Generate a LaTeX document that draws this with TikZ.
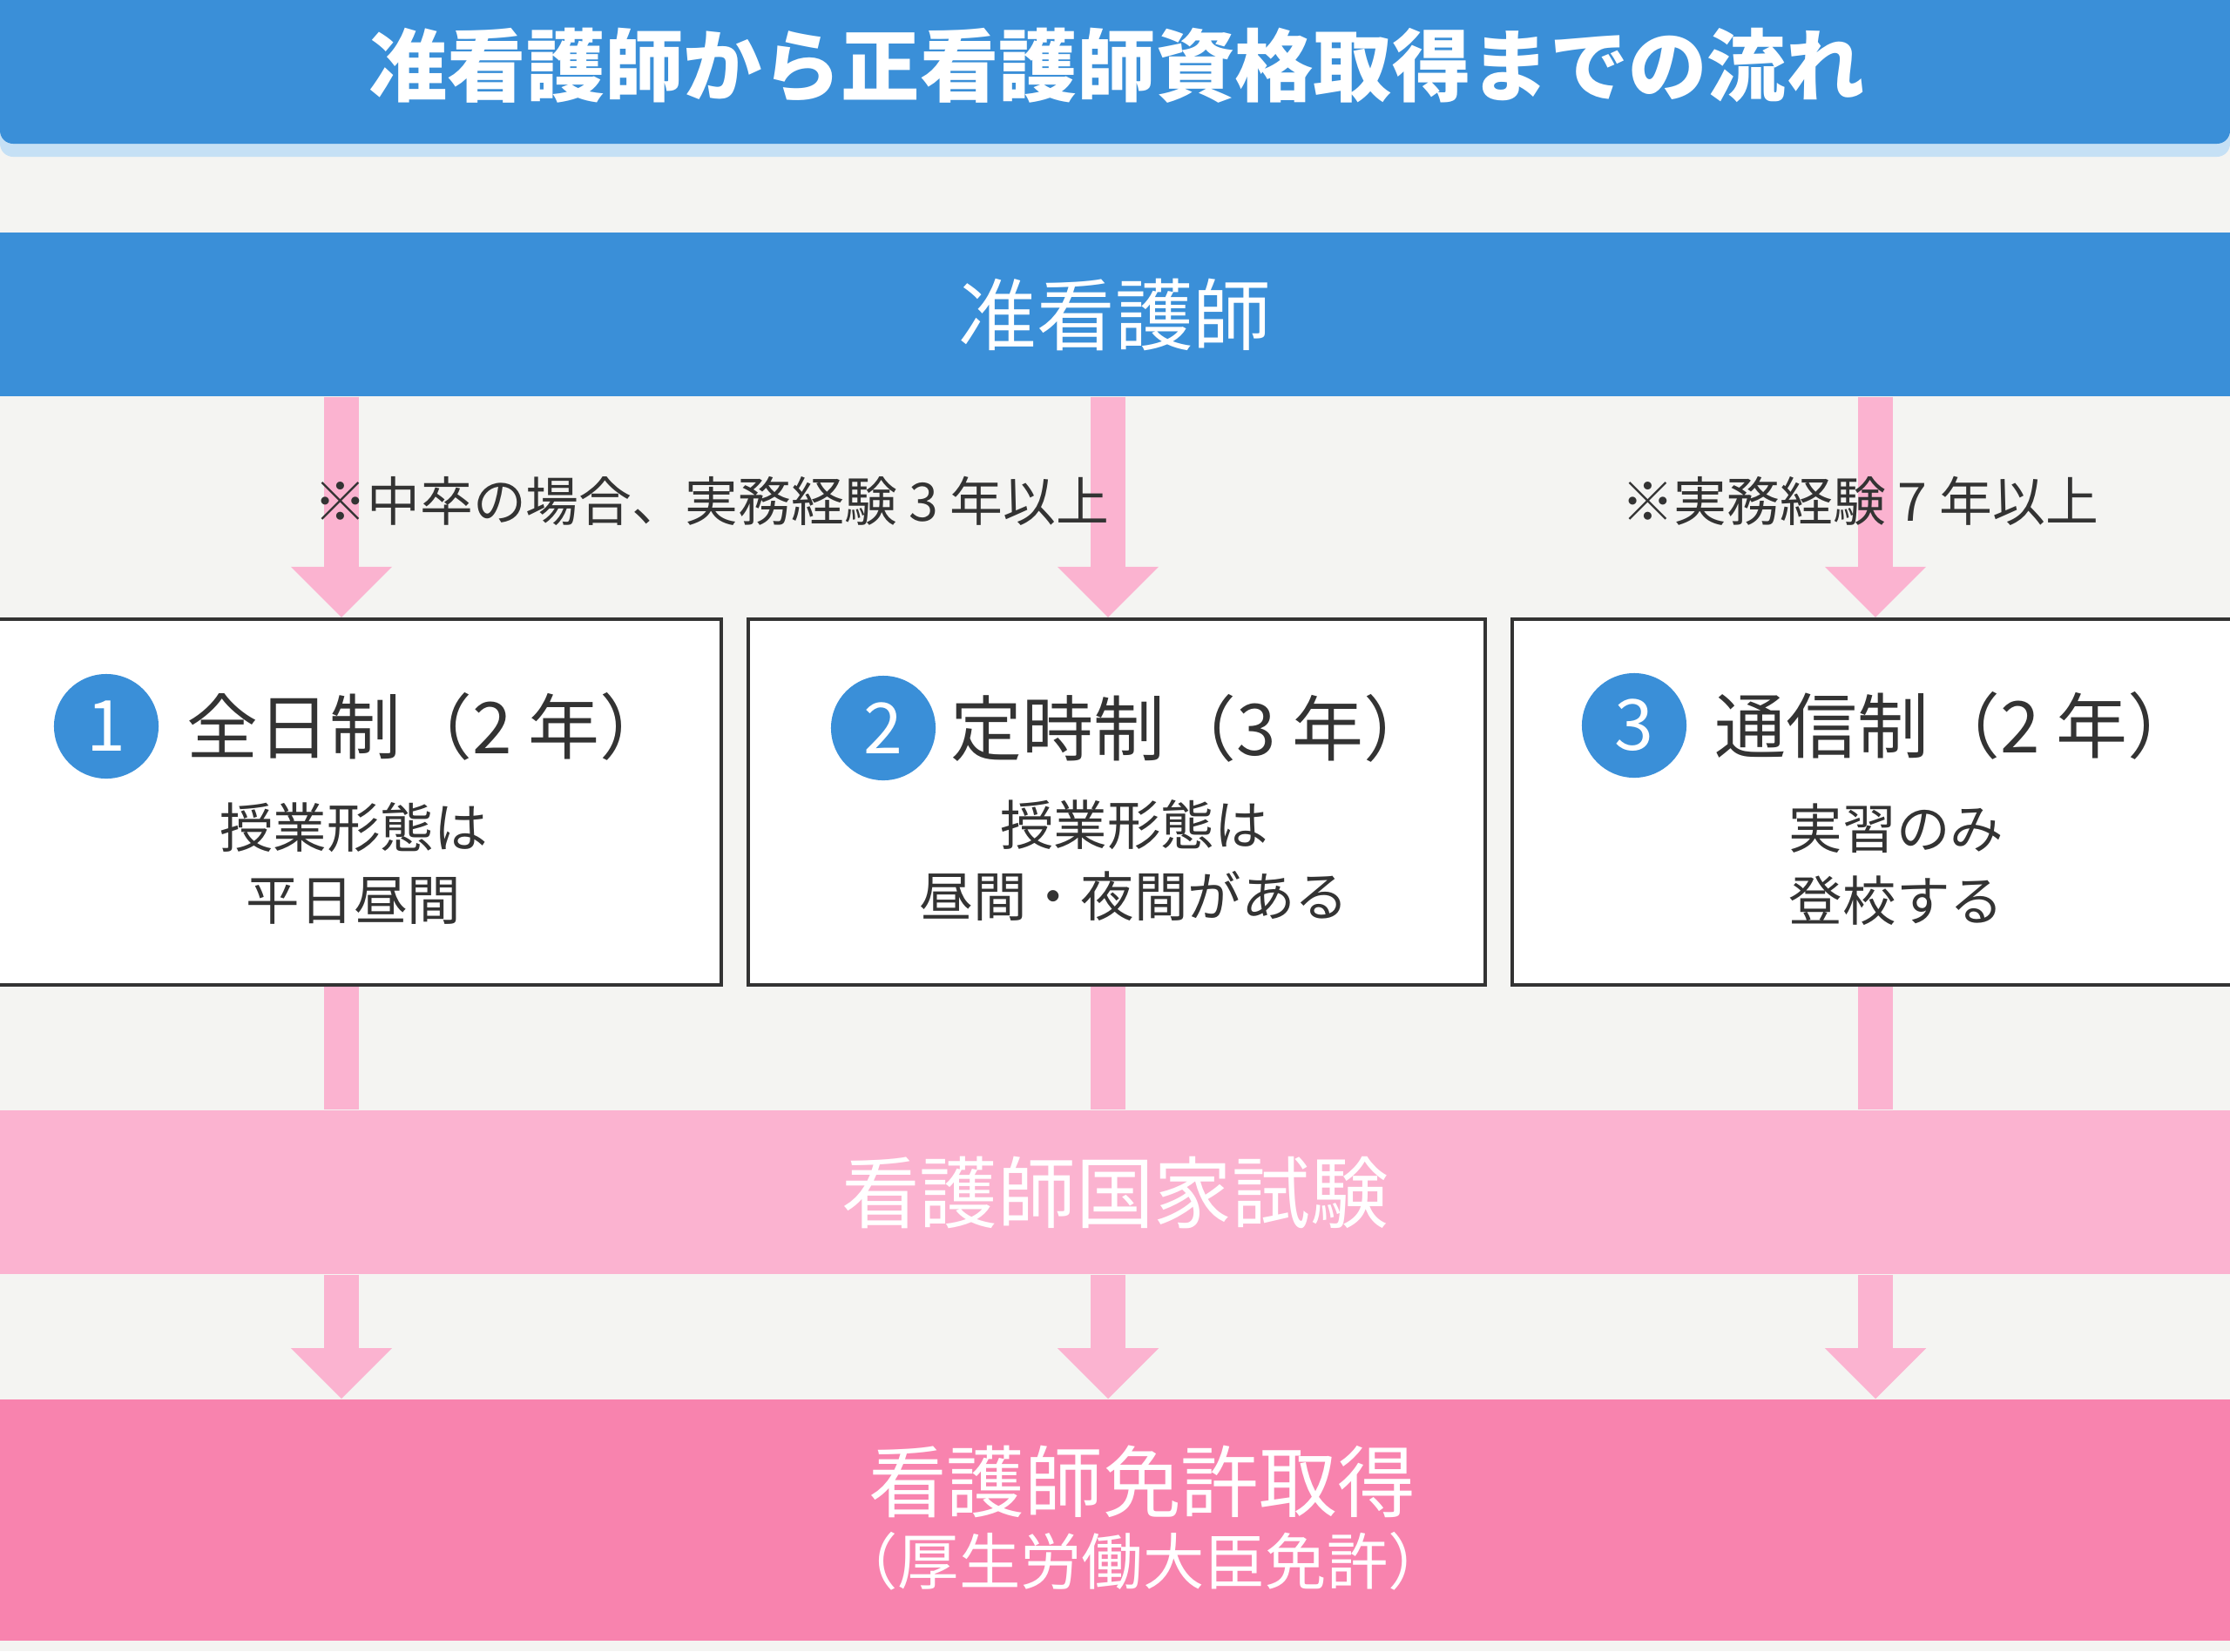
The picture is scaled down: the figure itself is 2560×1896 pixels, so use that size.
\documentclass[tikz,border=0pt]{standalone}
\usepackage{fontspec}
\setmainfont{Noto Sans CJK JP}
\usetikzlibrary{positioning}
\usetikzlibrary{arrows.meta}

\definecolor{bggray}{HTML}{F4F4F2}
\definecolor{nurseblue}{HTML}{3A8FD8}
\definecolor{paleblue}{HTML}{C5E0F5}
\definecolor{flowpink}{HTML}{FBB3D0}
\definecolor{deeppink}{HTML}{F883AE}
\definecolor{inkgray}{HTML}{333333}

\tikzset{
  bar/.style={minimum width=26cm, inner sep=0pt, text=white,
    font=\fontsize{25.5pt}{30pt}\selectfont},
  course/.style={draw=inkgray, line width=0.4mm, fill=white,
    minimum width=8.46cm, minimum height=4.2cm},
  numdot/.style={circle, fill=nurseblue, minimum size=1.2cm, inner sep=0pt,
    text=white, font=\fontsize{23pt}{23pt}\selectfont},
  coursehead/.style={anchor=west, inner sep=0pt, text=inkgray,
    font=\fontsize{23.3pt}{28pt}\selectfont},
  coursesub/.style={inner sep=0pt, text=inkgray, align=center,
    font=\fontsize{17.5pt}{23.6pt}\selectfont},
  notetext/.style={inner sep=0pt, text=inkgray,
    font=\fontsize{17.3pt}{20pt}\selectfont},
  flowline/.style={draw=flowpink, line width=0.4cm},
  flowhead/.style={flowline, -{Triangle[width=1.16cm, length=0.58cm, line width=0pt]}}
}

\begin{document}
\begin{tikzpicture}[x=0.01cm, y=-0.01cm]
    \useasboundingbox (0,0) rectangle (2560,1896);
    \fill[bggray] (0,0) rectangle (2560,1896);
    % title
    \fill[paleblue, rounded corners=0.15cm] (0,-30) rectangle (2560,180);
    \fill[nurseblue, rounded corners=0.15cm] (0,-30) rectangle (2560,165);
    \node[text=white, inner sep=0pt, font=\fontsize{25.7pt}{30pt}\selectfont\bfseries] (title) at (1282,75) {准看護師から正看護師資格取得までの流れ};
    % bars
    \node[bar, fill=nurseblue, minimum height=1.88cm] (assoc) at (1280,361) {准看護師};
    \node[bar, fill=flowpink, minimum height=1.88cm] (exam) at (1280,1369) {看護師国家試験};
    \node[bar, fill=deeppink, minimum height=2.77cm] (license) at (1280,1745.5) {};
    \node[bar] (licmain) at (1311,1701) {看護師免許取得};
    \node[bar, font=\fontsize{20pt}{24pt}\selectfont] (licsub) at (1312,1793) {（厚生労働大臣免許）};
    % courses
    \node[course] (box1) at (405,921) {};
    \node[course] (box2) at (1282,921) {};
    \node[course] (box3) at (2159,921) {};
    \node[numdot] (num1) at (122,834) {1};
    \node[numdot] (num2) at (1014,836) {2};
    \node[numdot] (num3) at (1876,833) {3};
    \node[coursehead] (head1) at (214,834) {全日制（2 年）};
    \node[coursehead] (head2) at (1091,836) {定時制（3 年）};
    \node[coursehead] (head3) at (1968,833) {通信制（2 年）};
    \node[coursesub] (sub1) at (406,991) {授業形態は\\平日昼間};
    \node[coursesub] (sub2) at (1302,988) {授業形態は\\昼間・夜間がある};
    \node[coursesub] (sub3) at (2177,993) {実習のみ\\登校する};
    % arrows
    \coordinate (c1) at (392,0);
    \coordinate (c2) at (1272,0);
    \coordinate (c3) at (2153,0);
    \foreach \i in {1,2,3} {
      \draw[flowhead] (assoc.south -| c\i) -- (box\i.north -| c\i);
      \draw[flowline] (box\i.south -| c\i) -- (exam.north -| c\i);
      \draw[flowhead] (exam.south -| c\i) -- (license.north -| c\i);
    }
    % notes
    \node[notetext] (note1) at (817,575) {※中卒の場合、実務経験 3 年以上};
    \node[notetext] (note2) at (2135,575) {※実務経験 7 年以上};
\end{tikzpicture}
\end{document}
